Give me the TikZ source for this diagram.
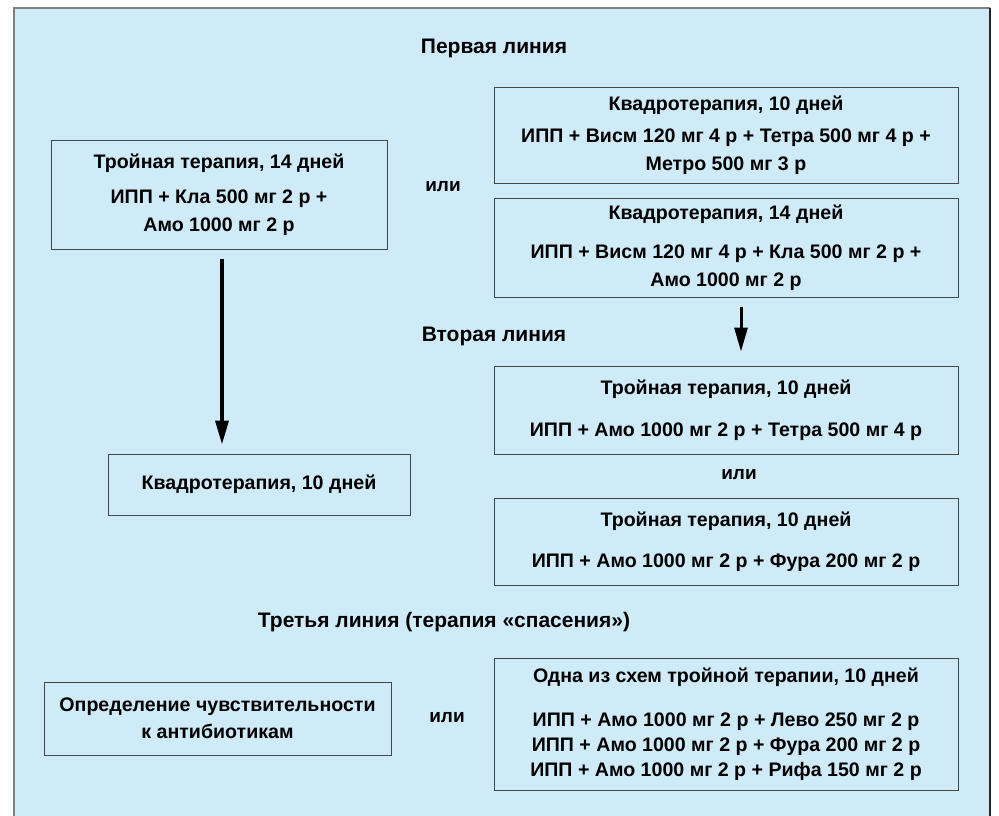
\documentclass[tikz,border=0pt]{standalone}
\usepackage{fontspec}
\setmainfont{Liberation Sans}
\usetikzlibrary{arrows.meta}
\definecolor{bgblue}{RGB}{207,235,248}
\definecolor{boxline}{RGB}{70,70,70}

\begin{document}
\begin{tikzpicture}[x=1pt,y=-1pt,
        box/.style={draw=boxline,line width=1pt,align=center,inner sep=0pt,
            font=\bfseries\fontsize{19.6}{28}\selectfont},
        lbl/.style={inner sep=0pt,font=\bfseries\fontsize{21}{24}\selectfont},
        orlbl/.style={inner sep=0pt,font=\bfseries\fontsize{19}{22}\selectfont},
        arr/.style={line width=3.5pt,-{Triangle[length=24pt,width=13pt]}}]
        \clip (0,0) rectangle (999,815);
        \fill[bgblue] (14,8) rectangle (990,830);
        \draw[gray,line width=2pt] (14,830) -- (14,8) -- (990,8);
        \draw[black!85,line width=1.5pt] (990,8) -- (990,830);

        \node[lbl] (first) at (494,48) {Первая линия};
        \node[box,minimum width=336pt,minimum height=109pt] (triple14) at (219,194.5)
            {Тройная терапия, 14 дней\\[7pt]ИПП + Кла 500 мг 2 р +\\Амо 1000 мг 2 р};
        \node[orlbl] (or1) at (443,187) {или};
        \node[box,minimum width=464pt,minimum height=96pt] (quad10) at (726,135)
            {Квадротерапия, 10 дней\\[4pt]ИПП + Висм 120 мг 4 р + Тетра 500 мг 4 р +\\Метро 500 мг 3 р};
        \node[box,minimum width=464pt,minimum height=99pt] (quad14) at (726,247.5)
            {Квадротерапия, 14 дней\\[11pt]ИПП + Висм 120 мг 4 р + Кла 500 мг 2 р +\\Амо 1000 мг 2 р};

        \node[lbl] (second) at (494,336) {Вторая линия};
        \node[box,minimum width=302pt,minimum height=61pt] (quadleft) at (259,484.5)
            {Квадротерапия, 10 дней};
        \node[box,minimum width=464pt,minimum height=88pt] (tripletetra) at (726,410)
            {Тройная терапия, 10 дней\\[14pt]ИПП + Амо 1000 мг 2 р + Тетра 500 мг 4 р};
        \node[orlbl] (or2) at (739,475) {или};
        \node[box,minimum width=464pt,minimum height=87pt] (triplefura) at (726,541.5)
            {Тройная терапия, 10 дней\\[13pt]ИПП + Амо 1000 мг 2 р + Фура 200 мг 2 р};

        \node[lbl] (third) at (444,622) {Третья линия (терапия «спасения»)};
        \node[box,minimum width=347pt,minimum height=73pt,
            font=\bfseries\fontsize{19.6}{27}\selectfont] (sens) at (217.5,718.5)
            {Определение чувствительности\\к антибиотикам};
        \node[orlbl] (or3) at (447,718) {или};
        \node[box,minimum width=464pt,minimum height=132pt,
            font=\bfseries\fontsize{19.6}{25}\selectfont] (rescue) at (726,724)
            {Одна из схем тройной терапии, 10 дней\\[19pt]ИПП + Амо 1000 мг 2 р + Лево 250 мг 2 р\\
            ИПП + Амо 1000 мг 2 р + Фура 200 мг 2 р\\ИПП + Амо 1000 мг 2 р + Рифа 150 мг 2 р};

        \draw[arr,shorten <=9pt,shorten >=9pt] ([xshift=3pt]triple14.south)
            -- ([xshift=3pt]triple14.south |- quadleft.north);
        \draw[arr,line width=3pt,shorten <=9pt,shorten >=14pt] ([xshift=15pt]quad14.south)
            -- ([xshift=15pt]quad14.south |- tripletetra.north);
    \end{tikzpicture}
\end{document}
